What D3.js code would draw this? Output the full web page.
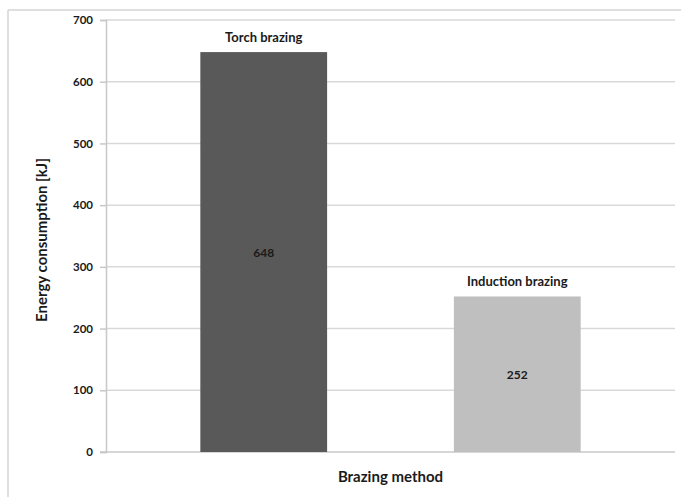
<!DOCTYPE html>
<html>
<head>
<meta charset="utf-8">
<script src="https://cdn.jsdelivr.net/npm/d3@7"></script>
<style>
  html, body { margin: 0; padding: 0; background: #fff; }
  svg { display: block; }
  text { font-family: Lato, "Open Sans", sans-serif; font-weight: bold; fill: #1a1a1a; }
</style>
</head>
<body>
<svg id="chart" width="681" height="497"></svg>
<script>
// Energy used per brazing method
const methods = ["Torch brazing", "Induction brazing"];
const energy = [648, 252];
const barColors = ["#595959", "#bfbfbf"];
const yTicks = [0, 100, 200, 300, 400, 500, 600, 700];

const svg = d3.select("#chart");
const W = 681, H = 497;
const plot = { left: 106, right: 675, top: 20, bottom: 452 };

// outer chart frame (only top and left edges fall inside the view)
svg.append("line").attr("x1", 8).attr("x2", W).attr("y1", 10).attr("y2", 10)
  .attr("stroke", "#d4d4d4").attr("stroke-width", 1.5);
svg.append("line").attr("x1", 8).attr("x2", 8).attr("y1", 10).attr("y2", H)
  .attr("stroke", "#d4d4d4").attr("stroke-width", 1.5);

const y = d3.scaleLinear().domain([0, 700]).range([plot.bottom, plot.top]);
const x = d3.scaleBand().domain(methods).range([plot.left, plot.right])
  .paddingInner(0.5).paddingOuter(0.372);

// horizontal gridlines
svg.append("g").selectAll("line").data(yTicks.filter(d => d > 0)).join("line")
  .attr("x1", plot.left).attr("x2", plot.right)
  .attr("y1", d => y(d)).attr("y2", d => y(d))
  .attr("stroke", "#d9d9d9").attr("stroke-width", 1.5);

// y axis
const yAxis = svg.append("g").attr("transform", `translate(${plot.left},0)`)
  .call(d3.axisLeft(y).tickValues(yTicks).tickSize(6).tickPadding(7));
yAxis.select(".domain").attr("stroke", "#c8c8c8").attr("stroke-width", 1.5);
yAxis.selectAll(".tick line").attr("stroke", "#c8c8c8").attr("stroke-width", 1.5);
yAxis.selectAll(".tick text").style("font-size", "11.5px").style("font-family", "Lato, sans-serif")
  .style("font-weight", "bold").attr("fill", "#1a1a1a");

// x axis baseline
svg.append("line").attr("x1", plot.left - 6).attr("x2", plot.right)
  .attr("y1", y(0)).attr("y2", y(0))
  .attr("stroke", "#c8c8c8").attr("stroke-width", 1.5);

// bars
svg.append("g").selectAll("rect").data(methods).join("rect")
  .attr("x", d => x(d))
  .attr("width", x.bandwidth())
  .attr("y", (d, i) => y(energy[i]))
  .attr("height", (d, i) => y(0) - y(energy[i]))
  .attr("fill", (d, i) => barColors[i]);

// series names above bars
svg.append("g").selectAll("text").data(methods).join("text")
  .attr("x", d => x(d) + x.bandwidth() / 2)
  .attr("y", (d, i) => y(energy[i]) - 10.5)
  .attr("text-anchor", "middle")
  .style("font-size", "13px")
  .text(d => d);

// values inside bars
svg.append("g").selectAll("text").data(methods).join("text")
  .attr("x", d => x(d) + x.bandwidth() / 2)
  .attr("y", (d, i) => (y(energy[i]) + y(0)) / 2 + 4.5)
  .attr("text-anchor", "middle")
  .style("font-size", "12px")
  .text((d, i) => energy[i]);

// axis titles
svg.append("text")
  .attr("x", (plot.left + plot.right) / 2).attr("y", 482)
  .attr("text-anchor", "middle").style("font-size", "15px")
  .text("Brazing method");

svg.append("text")
  .attr("transform", `translate(47,${(plot.top + plot.bottom) / 2 + 4}) rotate(-90)`)
  .attr("text-anchor", "middle").style("font-size", "15px")
  .text("Energy consumption [kJ]");
</script>
</body>
</html>
